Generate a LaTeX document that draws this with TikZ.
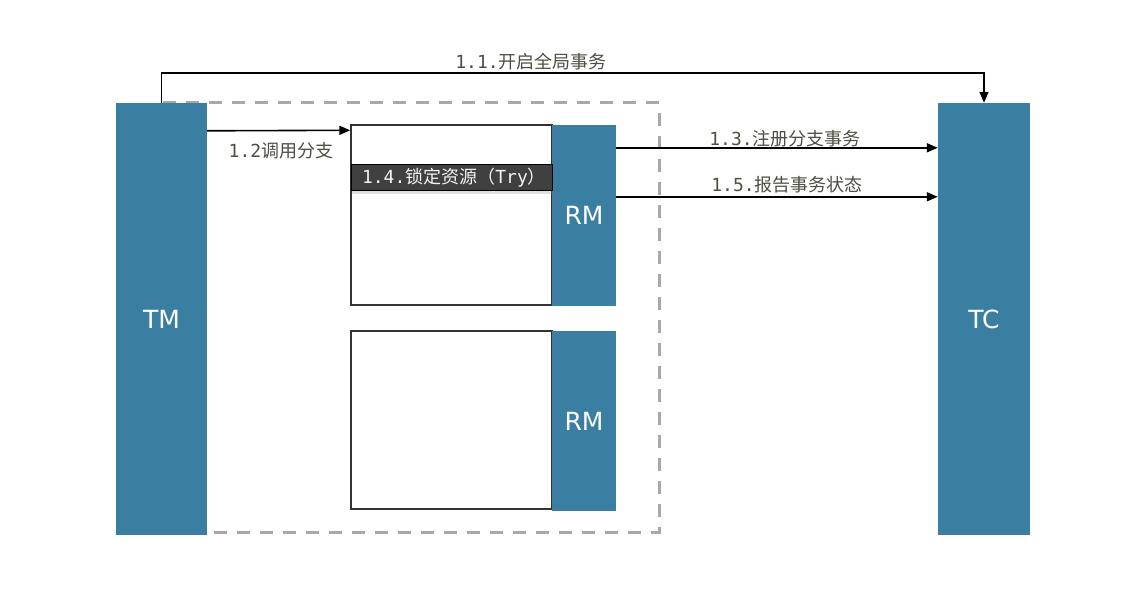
\documentclass[tikz,border=0pt]{standalone}
\usepackage{fontspec}
\setmainfont{DejaVu Sans}
\newfontfamily\cjk{Noto Sans CJK SC}
\newfontfamily\mono{DejaVu Sans Mono}
\usetikzlibrary{arrows.meta,shadows}
\definecolor{barblue}{HTML}{3A7FA2}
\definecolor{labelgray}{HTML}{4E4E44}
\definecolor{trygray}{HTML}{404040}
\definecolor{dashgray}{HTML}{A8A8A8}
\newcommand{\steptext}[2]{{\mono #1}{\cjk #2}}
\tikzset{
  bar/.style={fill=barblue, text=white, font=\fontsize{25}{29}\selectfont, inner sep=0pt},
  branchbox/.style={draw=black!80, line width=1.4pt, fill=white, inner sep=0pt},
  arr/.style={line width=1.6pt, -{Triangle[length=11pt,width=9pt]}},
  steplabel/.style={text=labelgray, font=\fontsize{18}{21}\selectfont, inner sep=1pt}
}
\begin{document}
\begin{tikzpicture}[x=1pt,y=-1pt]
  \useasboundingbox[fill=white] (0,0) rectangle (1146,612);
  % dashed frame round the branches
  \draw[dashgray, line width=3pt, dash pattern=on 13pt off 10pt] (160,103) rectangle (659,532);
  % main bars
  \node[bar, minimum width=91pt, minimum height=432pt] (tm) at (161.5,319) {TM};
  \node[bar, minimum width=92pt, minimum height=432pt] (tc) at (984,319) {TC};
  % branch boxes and resource managers
  \node[branchbox, minimum width=201pt, minimum height=180pt] (box1) at (451.5,215) {};
  \node[branchbox, minimum width=201pt, minimum height=178pt] (box2) at (451.5,420) {};
  \node[bar, minimum width=64pt, minimum height=181pt] (rm1) at (584,215.5) {RM};
  \node[bar, minimum width=64pt, minimum height=180pt] (rm2) at (584,421) {RM};
  % lock label
  \node[fill=trygray, draw=black, line width=1pt, text=white!90!gray, font=\fontsize{18}{21}\selectfont,
        minimum width=201pt, minimum height=26pt, inner sep=0pt, text width=179pt,
        drop shadow={opacity=0.25, shadow xshift=1pt, shadow yshift=-3pt}]
        (try) at (451.5,178) {{\mono 1.4.}{\cjk 锁定资源（}{\mono Try}{\cjk ）}};
  % 1.1 global transaction
  \draw[arr] (tm.north) -- ++(0,-30) -| (tc.north);
  \node[steplabel] (l1) at (531,62) {\steptext{1.1.}{开启全局事务}};
  % 1.2 call branch
  \draw[arr] ([yshift=-28pt]tm.north east) -- ([yshift=-6pt]box1.north west);
  \node[steplabel] (l2) at (281,151) {\steptext{1.2}{调用分支}};
  % 1.3 and 1.5 to TC
  \coordinate (r3) at ([yshift=-23pt]rm1.north east);
  \coordinate (r5) at ([yshift=-72pt]rm1.north east);
  \draw[arr] (r3) -- (r3 -| tc.west);
  \draw[arr] (r5) -- (r5 -| tc.west);
  \node[steplabel] (l3) at (785,139) {\steptext{1.3.}{注册分支事务}};
  \node[steplabel] (l5) at (787,185) {\steptext{1.5.}{报告事务状态}};
\end{tikzpicture}
\end{document}
